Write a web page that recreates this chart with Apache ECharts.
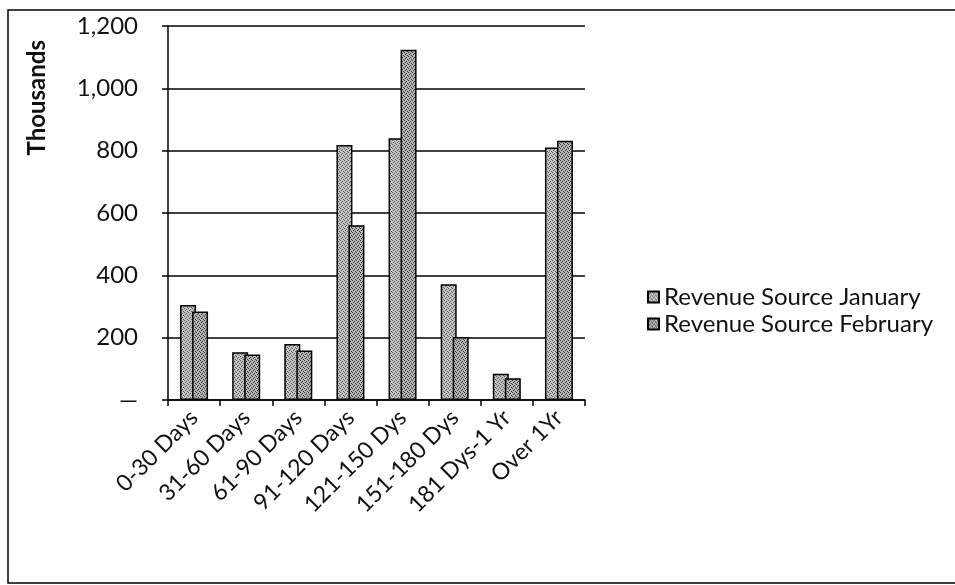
<!DOCTYPE html>
<html>
<head>
<meta charset="utf-8">
<script src="https://cdn.jsdelivr.net/npm/echarts@6/dist/echarts.min.js"></script>
<style>
  html, body { margin: 0; padding: 0; background: #fff; }
  #chart { width: 955px; height: 585px; }
</style>
</head>
<body>
<div id="chart"></div>
<script>
// Aging buckets and revenue (in thousands) per month
const categories = ['0-30 Days', '31-60 Days', '61-90 Days', '91-120 Days', '121-150 Dys', '151-180 Dys', '181 Dys-1 Yr', 'Over 1Yr'];
const january = [305, 153, 180, 818, 840, 371, 84, 810];
const february = [284, 146, 159, 561, 1124, 202, 70, 832];
const yTicks = [0, 200, 400, 600, 800, 1000, 1200];

// Stippled gray fill used for the bars and legend swatches
function stipple(base, dotAlpha) {
  const c = document.createElement('canvas');
  c.width = 4; c.height = 4;
  const g = c.getContext('2d');
  g.fillStyle = base;
  g.fillRect(0, 0, 4, 4);
  g.fillStyle = 'rgba(0,0,0,' + dotAlpha + ')';
  g.fillRect(0, 0, 1, 1);
  g.fillRect(2, 1, 1, 1);
  g.fillRect(1, 2, 1, 1);
  g.fillRect(3, 3, 1, 1);
  return { image: c, repeat: 'repeat' };
}

const font = 'Lato, "Open Sans", sans-serif';
const chart = echarts.init(document.getElementById('chart'), null, { renderer: 'canvas' });

chart.setOption({
  animation: false,
  backgroundColor: '#fff',
  graphic: [{
    type: 'rect',
    shape: { x: 8, y: 10, width: 960, height: 573 },
    style: { fill: 'none', stroke: '#000', lineWidth: 1.5 },
    silent: true
  }],
  grid: { left: 168, right: 370, top: 26, bottom: 185 },
  legend: {
    orient: 'vertical',
    left: 642,
    top: 280,
    icon: 'rect',
    itemWidth: 11,
    itemHeight: 11,
    itemGap: 3,
    textStyle: { fontFamily: font, fontSize: 24, color: '#111' },
    data: ['Revenue Source January', 'Revenue Source February']
  },
  xAxis: {
    type: 'category',
    data: categories,
    axisLine: { lineStyle: { color: '#000', width: 1.5 } },
    axisTick: { show: true, length: 6, alignWithLabel: false, lineStyle: { color: '#000', width: 1.5 } },
    axisLabel: { rotate: 45, interval: 0, fontFamily: font, fontSize: 23, color: '#111', margin: 14 }
  },
  yAxis: {
    type: 'value',
    min: yTicks[0],
    max: yTicks[yTicks.length - 1],
    interval: 200,
    name: 'Thousands',
    nameLocation: 'end',
    nameRotate: 90,
    nameGap: 0,
    nameTextStyle: { fontFamily: font, fontSize: 24, fontWeight: 'bold', color: '#111', align: 'right', verticalAlign: 'bottom', padding: [0, 14, 119, 0] },
    axisLine: { show: true, lineStyle: { color: '#000', width: 1.5 } },
    axisTick: { show: true, length: 6, lineStyle: { color: '#000', width: 1.5 } },
    splitLine: { show: true, lineStyle: { color: '#000', width: 1.5 } },
    axisLabel: {
      fontFamily: font, fontSize: 24, color: '#111', margin: 30,
      formatter: v => v === 0 ? '\u2014' : v.toLocaleString('en-US')
    }
  },
  series: [
    {
      name: 'Revenue Source January',
      type: 'bar',
      data: january,
      barWidth: 16,
      barGap: '-25%',
      itemStyle: { color: stipple('#c4c4c4', 0.55), borderColor: '#000', borderWidth: 1.5 }
    },
    {
      name: 'Revenue Source February',
      type: 'bar',
      data: february,
      barWidth: 16,
      itemStyle: { color: stipple('#b4b4b4', 0.7), borderColor: '#000', borderWidth: 1.5 }
    }
  ]
});
</script>
</body>
</html>
